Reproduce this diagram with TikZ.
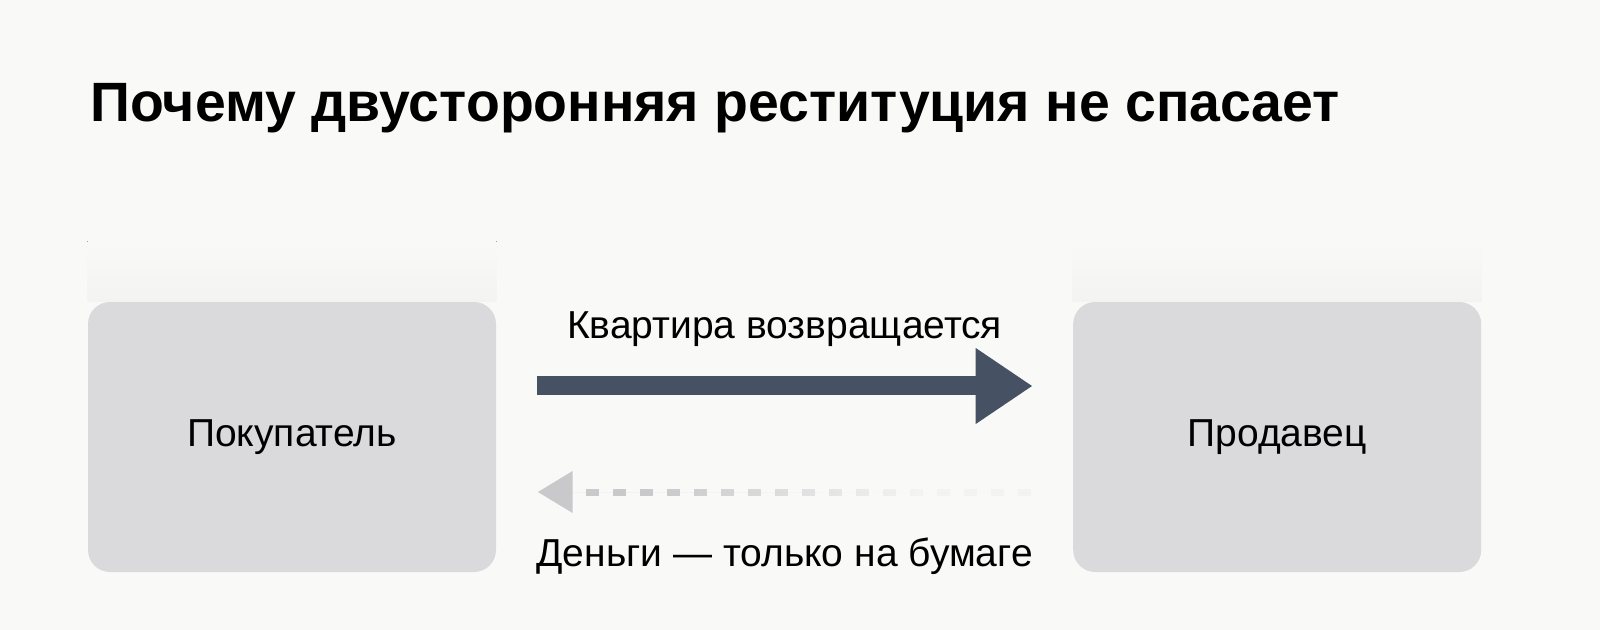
\documentclass[tikz,border=0pt]{standalone}
\usepackage{fontspec}
\setmainfont{Liberation Sans}
\usetikzlibrary{arrows.meta, positioning, fadings, calc}

\definecolor{bg}{HTML}{F9F9F7}
\definecolor{boxgray}{HTML}{DAD9DC}
\definecolor{slate}{HTML}{465263}
\definecolor{paper}{HTML}{C9C9CC}
\tikzfading[name=fade out east, left color=transparent!0, right color=transparent!88]

\begin{document}
\begin{tikzpicture}[x=0.5pt, y=-0.5pt, semithick, node distance=288pt, font=\fontsize{19.5}{24}\selectfont]
        \tikzstyle{party}=[fill=boxgray, rounded corners=11pt, minimum width=204pt, minimum height=135pt, text=black]
        \tikzstyle{band}=[top color=bg, bottom color=boxgray!18!bg]
        \tikzstyle{goes}=[draw=slate, line width=9.5pt, shorten <=20pt, shorten >=20pt, -{Triangle[length=28.5pt, width=36pt]}, fill=slate]
        \tikzstyle{paper}=[draw=paper, line width=3.5pt, dash pattern=on 6.5pt off 7pt, shorten <=21pt, shorten >=20.5pt, -{Triangle[length=17.5pt, width=20pt]}, fill=paper]

        \fill[bg] (0,0) rectangle (1600,630);
        \useasboundingbox (0,0) rectangle (1600,630);

        \node[anchor=base west, inner sep=0pt, font=\fontsize{27.7}{34}\selectfont\bfseries] (T) at (90,122) {Почему двусторонняя реституция не спасает};

        \node[party]    (A) at (292,437) {Покупатель};
        \node[party]    (B) [right=of A] {Продавец};

        % faint band over each box
        \fill[band] ([yshift=30pt]A.north west) rectangle (A.north east);
        \fill[band] ([yshift=30pt]B.north west) rectangle (B.north east);

        \path ([yshift=25.5pt]A.east) edge[goes] node[anchor=base, yshift=23.5pt] {Квартира возвращается} ([yshift=25.5pt]B.west);
        \path ([yshift=-27.5pt]B.west) edge[paper, path fading=fade out east, fit fading=false,
                fading transform={shift={($(A.east)!.5!(B.west)+(0,55)$)}, xscale=2.6}] ([yshift=-27.5pt]A.east);
        \path ([yshift=-27.5pt]B.west) -- node[anchor=base, yshift=-37pt] {Деньги — только на бумаге} ([yshift=-27.5pt]A.east); % label kept out of the fading
\end{tikzpicture}
\end{document}
